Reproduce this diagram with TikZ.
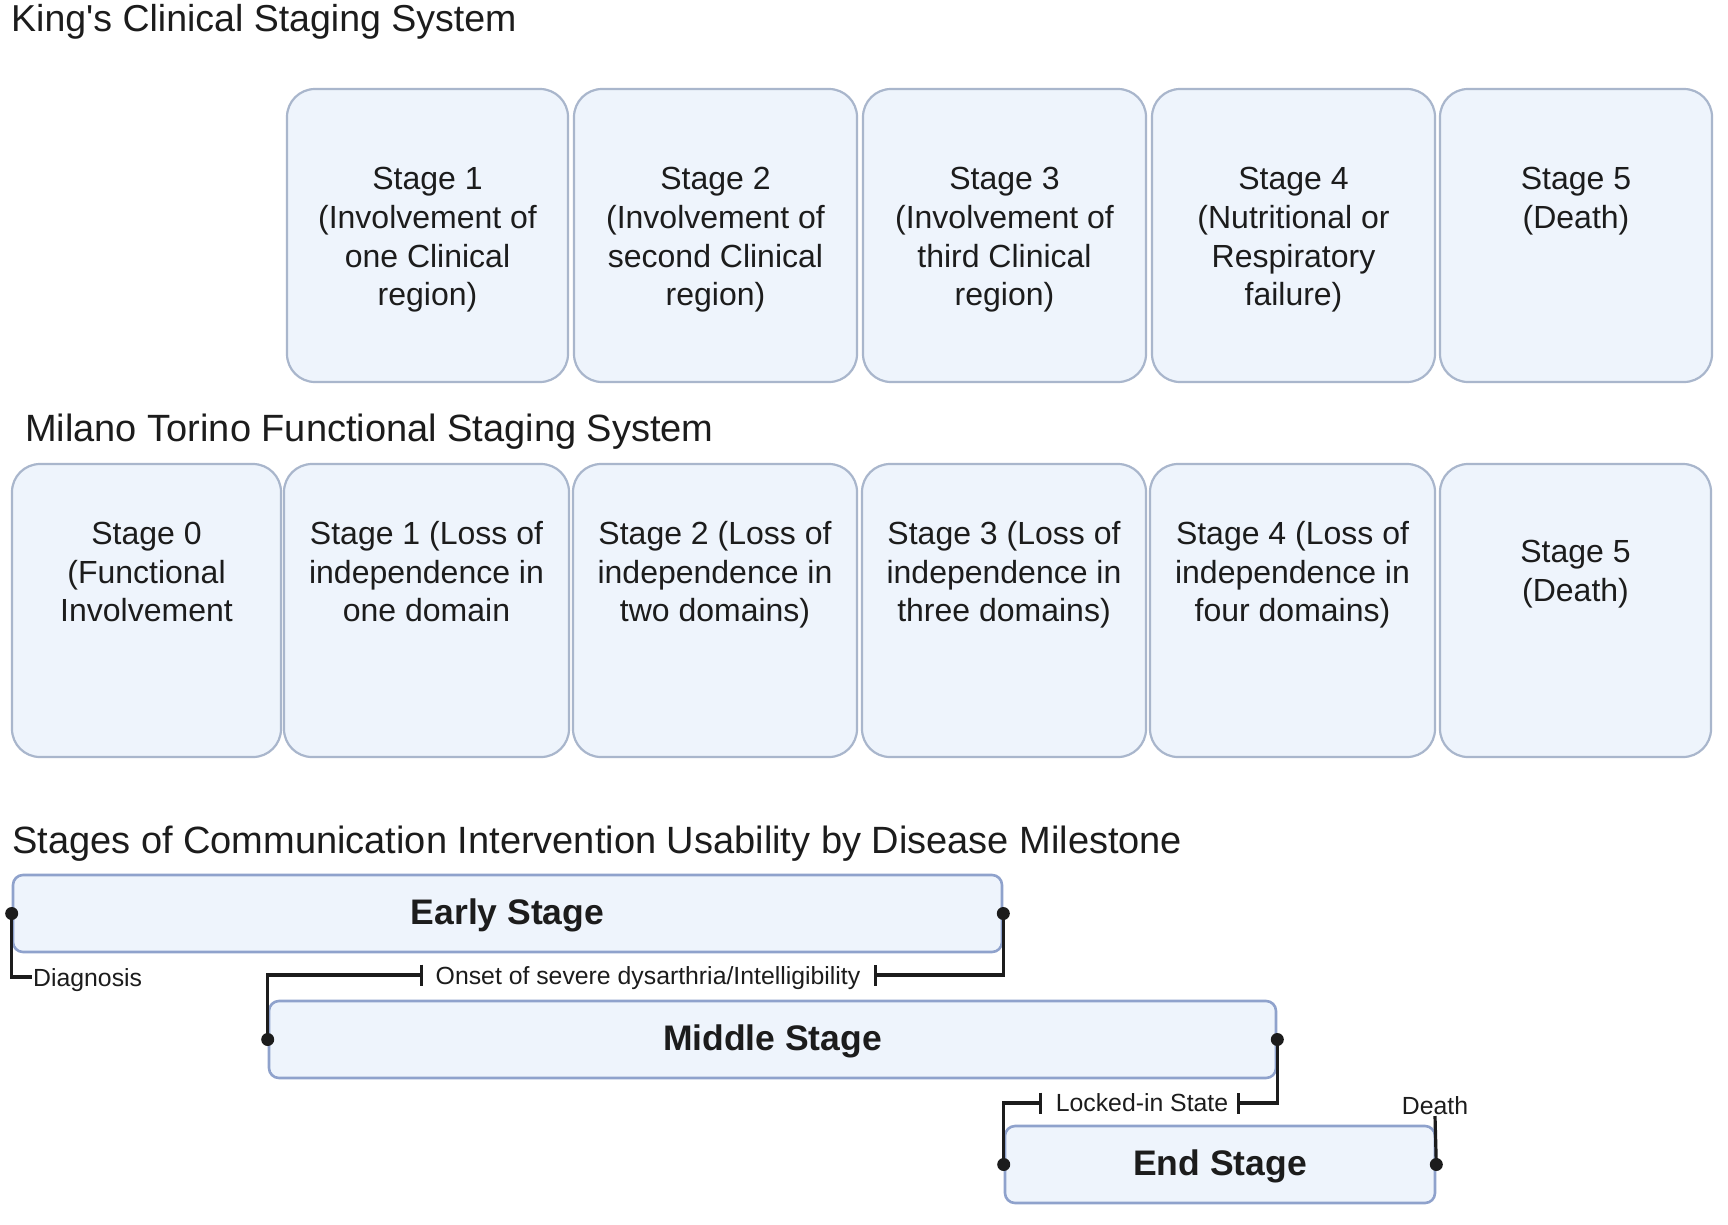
\documentclass[tikz,border=0pt]{standalone}
\usepackage{fontspec}
\setmainfont{Liberation Sans}[Ligatures=TeXOff]
\usetikzlibrary{arrows.meta}
\definecolor{boxfill}{HTML}{EEF4FC}
\definecolor{boxline}{HTML}{A9B6CC}
\definecolor{barline}{HTML}{8FA2CC}
\definecolor{ink}{HTML}{1C1C1C}
\begin{document}
\begin{tikzpicture}[x=1pt,y=-1pt,
  title/.style={anchor=west,inner sep=0pt,text=ink,font=\fontsize{38}{44}\selectfont},
  stagebox/.style={draw=boxline,fill=boxfill,line width=2.2pt,rounded corners=28pt,minimum height=293pt,inner sep=0pt},
  stagetext/.style={align=center,text=ink,inner sep=0pt,font=\fontsize{32}{38.6}\selectfont},
  phasebox/.style={draw=barline,fill=boxfill,line width=2.6pt,rounded corners=10pt,minimum height=77pt,inner sep=0pt,text depth=3pt,text=ink,font=\bfseries\fontsize{35.5}{42}\selectfont},
  small/.style={text=ink,inner sep=1pt,font=\fontsize{24.8}{30}\selectfont},
  conn/.style={draw=ink,line width=3.2pt},
  barconn/.style={conn,-{Bar[width=21pt,line width=3.2pt]}},
  dot/.style={fill=ink}
]
\useasboundingbox (0,0) rectangle (1728,1224);
\fill[white] (0,0) rectangle (1728,1224);

% ---- King's
\node[title,font=\fontsize{37.5}{44}\selectfont] (tk) at (11,22) {King's Clinical Staging System};
\node[stagebox,minimum width=281pt] (k1) at (427.5,235.5) {};
\node[stagebox,minimum width=283pt] (k2) at (715.5,235.5) {};
\node[stagebox,minimum width=283pt] (k3) at (1004.5,235.5) {};
\node[stagebox,minimum width=283pt] (k4) at (1293.5,235.5) {};
\node[stagebox,minimum width=272pt] (k5) at (1576,235.5) {};
\node[stagetext] (k1t) at (427.5,240) {\strut Stage 1\\(Involvement of\\one Clinical\\region)\strut};
\node[stagetext] (k2t) at (715.5,240) {\strut Stage 2\\(Involvement of\\second Clinical\\region)\strut};
\node[stagetext] (k3t) at (1004.5,240) {\strut Stage 3\\(Involvement of\\third Clinical\\region)\strut};
\node[stagetext] (k4t) at (1293.5,240) {\strut Stage 4\\(Nutritional or\\Respiratory\\failure)\strut};
\node[stagetext] (k5t) at (1576,201.5) {\strut Stage 5\\(Death)\strut};

% ---- Milano Torino
\node[title] (tm) at (25,432) {Milano Torino Functional Staging System};
\node[stagebox,minimum width=269pt] (m0) at (146.5,610.5) {};
\node[stagebox,minimum width=285pt] (m1) at (426.5,610.5) {};
\node[stagebox,minimum width=284pt] (m2) at (715,610.5) {};
\node[stagebox,minimum width=284pt] (m3) at (1004,610.5) {};
\node[stagebox,minimum width=285pt] (m4) at (1292.5,610.5) {};
\node[stagebox,minimum width=271pt] (m5) at (1575.5,610.5) {};
\node[stagetext] (m0t) at (146.5,575.5) {\strut Stage 0\\(Functional\\Involvement\strut};
\node[stagetext] (m1t) at (426.5,575.5) {\strut Stage 1 (Loss of\\independence in\\one domain\strut};
\node[stagetext] (m2t) at (715,575.5) {\strut Stage 2 (Loss of\\independence in\\two domains)\strut};
\node[stagetext] (m3t) at (1004,575.5) {\strut Stage 3 (Loss of\\independence in\\three domains)\strut};
\node[stagetext] (m4t) at (1292.5,575.5) {\strut Stage 4 (Loss of\\independence in\\four domains)\strut};
\node[stagetext] (m5t) at (1575.5,574.5) {\strut Stage 5\\(Death)\strut};

% ---- Communication stages
\node[title] (tc) at (12,844) {Stages of Communication Intervention Usability by Disease Milestone};
\node[phasebox,minimum width=989pt] (early) at (507.5,913.5) {Early Stage};
\node[phasebox,minimum width=1007pt] (middle) at (772.5,1039.5) {Middle Stage};
\node[phasebox,minimum width=430pt] (endst) at (1220,1164.5) {End Stage};

% Diagnosis
\node[small,anchor=west] (diag) at (32,980) {Diagnosis};
\coordinate (diagC) at (32,977);
\draw[conn] (early.west) |- (diagC);

% Onset
\node[small] (onset) at (648,978) {Onset of severe dysarthria/Intelligibility};
\coordinate (onsetR) at (874,975);
\coordinate (onsetL) at (423,975);
\draw[barconn] (early.east) |- (onsetR);
\draw[barconn] (middle.west) |- (onsetL);

% Locked-in
\node[small] (locked) at (1142,1103) {Locked-in State};
\coordinate (lockR) at (1237,1103);
\coordinate (lockL) at (1042,1103);
\draw[barconn] (middle.east) |- (lockR);
\draw[barconn] (endst.west) |- (lockL);

% Death
\node[small,anchor=south] (death) at (1435,1116) {Death};
\draw[conn] (endst.east) -- (death.south);

% dots
\foreach \n in {early.west,early.east,middle.west,middle.east,endst.west,endst.east}
  \fill[dot] (\n) circle[radius=6.5pt];
\end{tikzpicture}
\end{document}
